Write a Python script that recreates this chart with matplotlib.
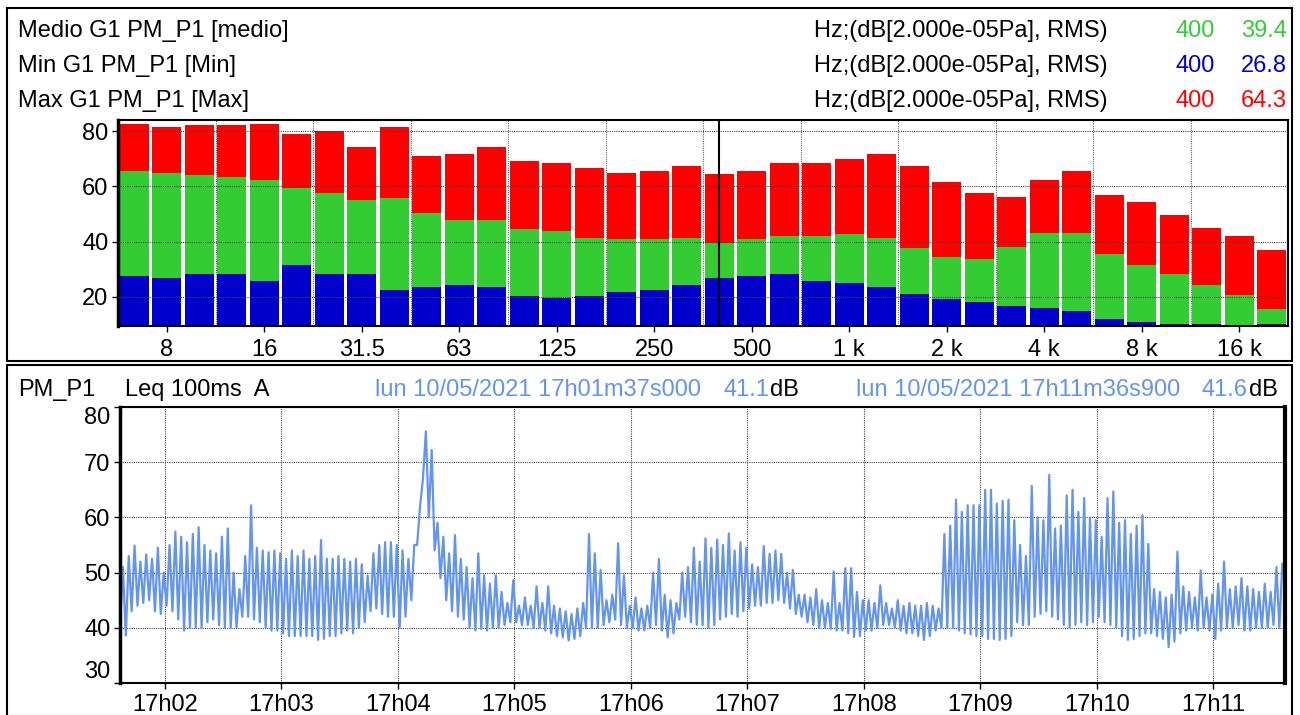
import matplotlib
matplotlib.use("Agg")
import matplotlib.pyplot as plt
import numpy as np
from matplotlib.patches import Rectangle

plt.rcParams['font.family'] = ['Liberation Sans', 'DejaVu Sans']
plt.rcParams['font.size'] = 17

# 1/3 octave spectrum (dB)
bands = ["6.3", "8", "10", "12.5", "16", "20", "25", "31.5", "40", "50", "63", "80",
         "100", "125", "160", "200", "250", "315", "400", "500", "630", "800",
         "1 k", "1.25 k", "1.6 k", "2 k", "2.5 k", "3.15 k", "4 k", "5 k", "6.3 k",
         "8 k", "10 k", "12.5 k", "16 k", "20 k"]
massimo = [82.6, 81.4, 82.1, 82.1, 82.6, 79.0, 80.0, 74.3, 81.4, 71.1, 71.8, 74.3,
           69.0, 68.6, 66.5, 64.7, 65.7, 67.2, 64.3, 65.7, 68.6, 68.6, 70.0, 71.8,
           67.2, 61.5, 57.6, 56.1, 62.2, 65.4, 56.8, 54.3, 49.7, 45.1, 41.9, 36.9]
medio = [65.4, 64.7, 64.0, 63.3, 62.2, 59.3, 57.6, 55.1, 55.8, 50.4, 47.9, 47.9,
         44.7, 44.0, 41.2, 40.8, 40.8, 41.5, 39.4, 40.8, 42.2, 42.2, 42.6, 41.2,
         37.6, 34.4, 33.7, 38.0, 43.3, 43.3, 35.5, 31.5, 28.3, 24.4, 20.8, 15.5]
minimo = [27.6, 26.9, 28.3, 28.3, 25.8, 31.5, 28.3, 28.3, 22.6, 23.7, 24.4, 23.7,
          20.5, 19.8, 20.5, 21.9, 22.6, 24.4, 26.8, 27.6, 28.3, 25.8, 25.1, 23.7,
          21.2, 19.4, 18.0, 16.6, 15.9, 14.8, 12.0, 10.9, 10.2, 10.2, 9.8, 10.2]
cursor_band = "400"

# Leq 100ms A time history, read as low / high per 3 s slice
ts_start = 97          # 17h01m37s, seconds after 17h00
ts_step = 3.0
ts_lo = [40.5, 38.6, 43.0, 44.0, 44.5, 45.0, 43.0, 42.5, 44.0, 43.0,
         41.5, 39.5, 40.0, 40.0, 40.0, 41.0, 41.5, 40.5, 40.0, 40.0,
         40.0, 42.0, 42.0, 41.5, 41.0, 40.0, 39.5, 39.5, 39.0, 38.5,
         38.5, 38.5, 38.5, 38.5, 37.8, 38.0, 38.5, 38.5, 39.0, 39.5,
         39.0, 40.0, 41.0, 43.0, 43.5, 42.5, 42.0, 42.0, 40.0, 42.0,
         45.0, 55.0, 67.0, 60.0, 54.0, 49.0, 45.0, 43.0, 42.0, 41.5,
         40.0, 39.5, 39.8, 39.5, 40.0, 40.0, 40.5, 41.0, 41.0, 40.5,
         40.5, 40.0, 40.0, 39.5, 39.0, 38.5, 38.3, 37.7, 38.0, 38.5,
         40.0, 40.0, 40.0, 40.5, 41.0, 41.5, 40.5, 40.0, 40.0, 39.5,
         39.5, 40.0, 40.5, 39.5, 38.3, 39.0, 41.5, 42.0, 41.0, 40.5,
         40.5, 40.0, 40.5, 41.5, 42.0, 42.5, 42.0, 43.0, 43.5, 44.0,
         44.0, 44.5, 44.5, 45.0, 44.5, 43.5, 42.5, 42.0, 41.0, 40.5,
         40.0, 40.0, 39.8, 39.5, 39.5, 39.0, 38.3, 38.5, 39.5, 39.5,
         40.0, 40.5, 40.5, 40.0, 39.5, 39.0, 39.0, 38.5, 37.8, 38.5,
         39.5, 40.0, 40.0, 40.0, 39.5, 39.0, 38.8, 38.5, 38.5, 38.0,
         38.0, 37.8, 38.0, 38.5, 41.0, 40.5, 40.5, 42.0, 42.5, 43.0,
         42.0, 41.5, 40.5, 40.0, 40.5, 41.0, 40.5, 41.0, 42.0, 41.0,
         40.5, 40.0, 38.5, 37.8, 38.0, 38.5, 39.0, 39.0, 38.5, 38.0,
         36.5, 37.5, 39.0, 39.5, 40.0, 39.5, 40.0, 39.5, 38.0, 39.5,
         40.0, 40.0, 40.5, 39.5, 39.5, 40.0, 40.0, 40.0, 40.5, 40.0]
ts_hi = [51.0, 53.0, 54.9, 52.0, 53.3, 52.5, 54.5, 50.0, 55.0, 57.4,
         56.5, 55.5, 57.0, 58.2, 55.0, 54.0, 53.5, 56.5, 58.0, 50.0,
         47.0, 53.0, 62.2, 54.5, 54.0, 53.7, 54.0, 53.5, 52.5, 54.0,
         53.0, 54.0, 52.5, 53.0, 55.9, 52.5, 52.5, 53.0, 52.5, 52.0,
         52.5, 51.5, 49.5, 53.5, 55.0, 55.5, 55.5, 55.0, 54.0, 52.5,
         55.0, 62.0, 75.6, 72.2, 59.0, 56.5, 53.5, 56.8, 52.5, 51.0,
         49.0, 53.5, 49.5, 48.0, 49.5, 46.5, 44.5, 48.6, 44.0, 45.5,
         44.0, 47.5, 44.5, 47.5, 44.0, 43.5, 43.0, 42.5, 43.5, 44.5,
         57.0, 53.5, 50.5, 45.0, 46.0, 55.3, 49.5, 44.0, 45.5, 43.5,
         44.0, 50.0, 52.5, 46.0, 45.0, 44.5, 50.0, 51.0, 54.5, 52.0,
         56.2, 54.5, 56.0, 55.0, 57.1, 54.0, 55.5, 54.5, 51.5, 51.0,
         54.8, 53.4, 54.0, 53.4, 50.0, 50.5, 46.0, 46.0, 45.5, 47.0,
         45.0, 44.5, 50.2, 44.5, 50.8, 50.8, 46.5, 45.0, 45.0, 44.5,
         47.7, 44.5, 43.5, 45.0, 44.0, 44.5, 44.0, 44.0, 44.5, 44.0,
         43.5, 57.0, 58.5, 63.2, 61.0, 62.2, 62.2, 62.2, 65.0, 65.0,
         62.5, 63.0, 63.2, 59.5, 55.0, 53.0, 65.7, 60.0, 59.5, 67.7,
         58.0, 58.5, 64.0, 65.0, 61.0, 63.5, 60.0, 59.5, 56.5, 63.5,
         64.7, 59.0, 59.5, 57.0, 58.5, 60.4, 55.2, 47.0, 46.5, 45.5,
         46.0, 53.8, 47.5, 46.5, 45.5, 50.4, 45.5, 46.0, 48.0, 52.0,
         47.0, 47.5, 49.0, 47.5, 47.0, 46.5, 48.0, 46.5, 51.0, 51.6]
time_ticks = ["17h02", "17h03", "17h04", "17h05", "17h06", "17h07", "17h08",
              "17h09", "17h10", "17h11"]

W, H = 1300, 715
fig = plt.figure(figsize=(13, 7.15), dpi=100)
green, blue, red, lblue = "#33cc33", "#0000cc", "#ff0000", "#6495ed"


def px(x, y):
    return x / W, 1 - y / H


# outer frames
for (x0, y0, x1, y1) in [(7, 8, 1292, 361), (7, 365, 1292, 716)]:
    fig.add_artist(Rectangle(px(x0, y1), (x1 - x0) / W, (y1 - y0) / H, fill=False,
                             lw=1.5, ec="black", transform=fig.transFigure))

# header rows of the spectrum
rows = [("Medio G1 PM_P1 [medio]", medio, green),
        ("Min G1 PM_P1 [Min]", minimo, blue),
        ("Max G1 PM_P1 [Max]", massimo, red)]
ci = bands.index(cursor_band)
for (name, vals, col), y in zip(rows, [31, 66, 101]):
    fig.text(*px(18, y), name, va="center", ha="left")
    fig.text(*px(1108, y), "Hz;(dB[2.000e-05Pa], RMS)", va="center", ha="right")
    fig.text(*px(1215, y), cursor_band, va="center", ha="right", color=col)
    fig.text(*px(1287, y), f"{vals[ci]:.1f}", va="center", ha="right", color=col)

# spectrum axes
ax1 = fig.add_axes([118 / W, 1 - 326 / H, (1288 - 118) / W, 206 / H])
x = np.arange(len(bands))
ax1.bar(x, massimo, width=0.9, color=red, zorder=2)
ax1.bar(x, medio, width=0.9, color=green, zorder=2)
ax1.bar(x, minimo, width=0.9, color=blue, zorder=2)
ax1.axvline(ci, color="black", lw=1.5, zorder=4)
ax1.set_xlim(-0.5, len(bands) - 0.5)
ax1.set_ylim(9.5, 84)
ax1.set_yticks([20, 40, 60, 80])
ax1.set_xticks(x[1::3])
ax1.set_xticklabels(bands[1::3])
ax1.set_xticks(np.arange(2.5, len(bands) - 1, 3), minor=True)
ax1.tick_params(axis="x", which="minor", length=0)
ax1.tick_params(axis="both", which="major", length=4, width=1, pad=3)
ax1.tick_params(axis="x", which="major", pad=5)
ax1.grid(which="minor", axis="x", color="#666666", lw=0.8, ls=(0, (1, 1)), zorder=3)
ax1.grid(which="major", axis="y", color="#444444", lw=0.8, ls=(0, (1, 1)), zorder=3)
ax1.set_axisbelow(False)
for s in ax1.spines.values():
    s.set_linewidth(1.5)
ax1.spines["left"].set_linewidth(2.5)

# header of the time history
fig.text(*px(18, 390), "PM_P1", va="center")
fig.text(*px(125, 390), "Leq 100ms  A", va="center")
fig.text(*px(375, 390), "lun 10/05/2021 17h01m37s000", va="center", color=lblue)
fig.text(*px(769, 390), "41.1", va="center", ha="right", color=lblue)
fig.text(*px(770, 390), "dB", va="center")
fig.text(*px(856, 390), "lun 10/05/2021 17h11m36s900", va="center", color=lblue)
fig.text(*px(1248, 390), "41.6", va="center", ha="right", color=lblue)
fig.text(*px(1249, 390), "dB", va="center")

# time history axes
ax2 = fig.add_axes([120 / W, 1 - 683 / H, 1165 / W, 276 / H])
t_lo = ts_step * np.arange(len(ts_lo))
t = np.column_stack([t_lo, t_lo + ts_step / 2]).ravel()
v = np.column_stack([ts_lo, ts_hi]).ravel()
ax2.plot(t, v, color=lblue, lw=1.6, zorder=2)
ax2.set_xlim(0, 599.9)
ax2.set_ylim(30, 80)
ax2.set_yticks([30, 40, 50, 60, 70, 80])
ticks = [int(s[3:]) * 60 - ts_start for s in time_ticks]
ax2.set_xticks(ticks)
ax2.set_xticklabels(time_ticks)
ax2.tick_params(axis="both", length=4, width=1, pad=3)
ax2.tick_params(axis="x", pad=4)
ax2.grid(color="#444444", lw=0.8, ls=(0, (1, 1)), zorder=1)
labs = ax2.get_yticklabels()
labs[0].set_va("bottom")
labs[-1].set_va("top")
for s in ax2.spines.values():
    s.set_linewidth(1.5)
ax2.spines["left"].set_linewidth(2.5)
ax2.spines["right"].set_linewidth(3)

fig.savefig("out.png", dpi=100)
